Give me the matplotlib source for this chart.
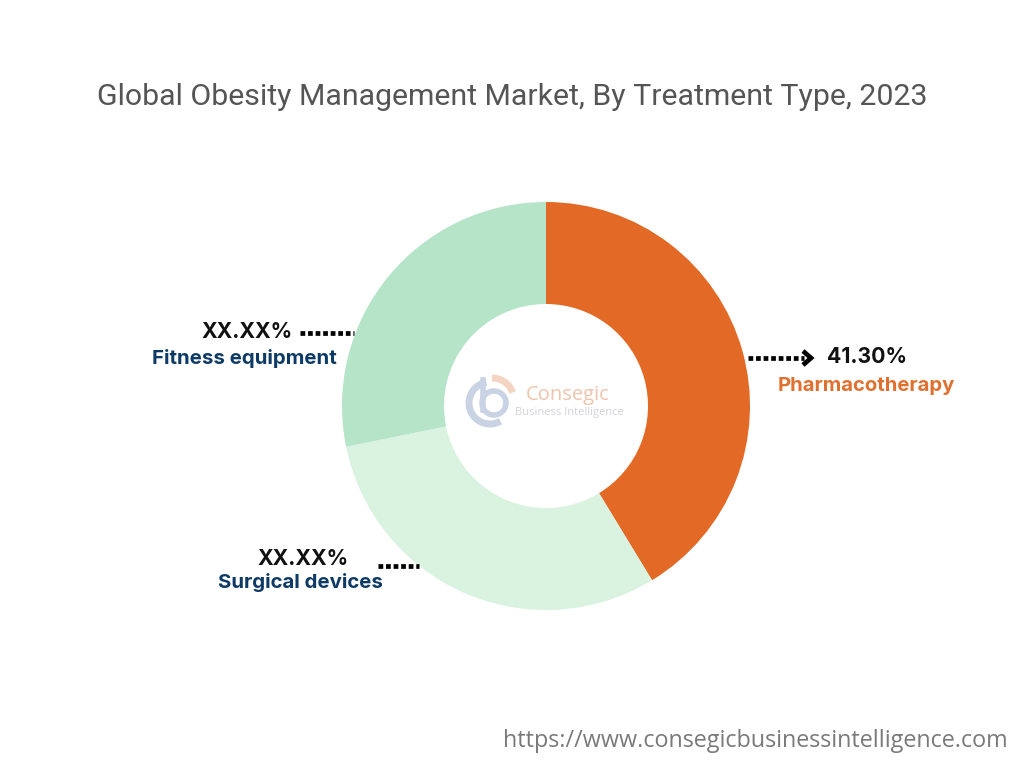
import matplotlib
matplotlib.use("Agg")
import matplotlib.pyplot as plt
from matplotlib.patches import Arc

categories = ["Pharmacotherapy", "Surgical devices", "Fitness equipment"]
shares = [41.30, 30.5, 28.2]
value_labels = ["41.30%", "XX.XX%", "XX.XX%"]
colors = ["#E36A26", "#DAF2E0", "#B5E4C9"]

W, H = 1024, 768
fig = plt.figure(figsize=(W / 100, H / 100), dpi=100)
ax = fig.add_axes([0, 0, 1, 1])

def Y(py):
    return H - py

cx, cy, R = 546, Y(406), 204
ax.pie(shares, colors=colors, startangle=90, counterclock=False,
       radius=R, center=(cx, cy), frame=True,
       wedgeprops=dict(width=R * 0.5, edgecolor="none"))
ax.set_xlim(0, W)
ax.set_ylim(0, H)
ax.set_aspect("equal")
ax.axis("off")

# Title
fig.text(512 / W, 1 - 97 / H, "Global Obesity Management Market, By Treatment Type, 2023",
         ha="center", va="center", fontsize=21.8, color="#555555", family="Roboto")

# Leaders
dot = dict(color="black", lw=3.4, linestyle=(0, (1, 0.6)), dash_capstyle="butt")
ax.plot([300, 354], [Y(333), Y(333)], **dot)
ax.plot([378, 419], [Y(566), Y(566)], **dot)
ax.plot([748, 804], [Y(358), Y(358)], **dot)
ax.plot([803, 811, 803], [Y(351), Y(358), Y(365)], color="black", lw=3.4,
        solid_joinstyle="miter", solid_capstyle="butt")

navy = "#0E3A66"
# Pharmacotherapy
ax.text(827, Y(357), value_labels[0], ha="left", va="center", fontsize=15.3,
        fontweight="bold", color="#111111", family="Inter")
ax.text(866, Y(386), categories[0], ha="center", va="center", fontsize=14.6,
        fontweight="bold", color="#E07030", family="Inter")
# Fitness equipment
ax.text(293, Y(332), value_labels[2], ha="right", va="center", fontsize=15.3,
        fontweight="bold", color="#111111", family="Inter")
ax.text(244, Y(358), categories[2], ha="center", va="center", fontsize=14.7,
        fontweight="bold", color=navy, family="Inter")
# Surgical devices
ax.text(349, Y(559), value_labels[1], ha="right", va="center", fontsize=15.3,
        fontweight="bold", color="#111111", family="Inter")
ax.text(300, Y(582), categories[1], ha="center", va="center", fontsize=14.7,
        fontweight="bold", color=navy, family="Inter")

# Watermark logo
ax.add_patch(Arc((490, Y(403)), 42, 42, theta1=100, theta2=300, color="#C9D3E3", lw=5))
ax.add_patch(Arc((494, Y(403)), 24, 24, theta1=0, theta2=360, color="#C9D3E3", lw=4))
ax.plot([483, 483], [Y(380), Y(410)], color="#C9D3E3", lw=4)
ax.add_patch(Arc((492, Y(400)), 44, 44, theta1=20, theta2=90, color="#F4D5C4", lw=5))
ax.text(526, Y(395), "Consegic", ha="left", va="center", fontsize=14.5,
        color="#F0C4AC", family="Open Sans")
ax.text(515, Y(412), "Business Intelligence", ha="left", va="center", fontsize=8,
        color="#D3D3D8", family="Open Sans")

# Footer
fig.text(1008 / W, 1 - 741 / H, "https://www.consegicbusinessintelligence.com",
         ha="right", va="center", fontsize=16.8, color="#7A7A7A", family="Open Sans")

fig.savefig("out.png", dpi=100, facecolor="white")
